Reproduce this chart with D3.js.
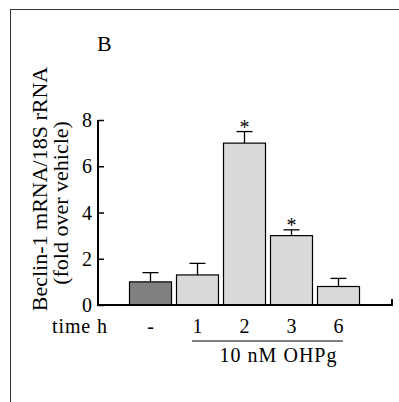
<!DOCTYPE html>
<html>
<head>
<meta charset="utf-8">
<script src="https://cdn.jsdelivr.net/npm/d3@7"></script>
<style>
  body { margin: 0; background: #fff; }
</style>
</head>
<body>
<div id="main-content"></div>
<script>
// data
const groups = ["-", "1", "2", "3", "6"];
const means = [1.0, 1.3, 7.0, 3.0, 0.8];
const errs = [0.4, 0.5, 0.5, 0.25, 0.35];
const signif = [false, false, true, true, false];
const yTicks = [0, 2, 4, 6, 8];

const width = 399, height = 402;
const serif = "'Liberation Serif', 'Times New Roman', Times, 'DejaVu Serif', serif";

const svg = d3.select("#main-content")
  .append("svg")
  .attr("width", width)
  .attr("height", height)
  .style("font-family", serif);

// outer frame (runs off right/bottom)
svg.append("rect")
  .attr("x", 10.5).attr("y", 9.5)
  .attr("width", 420).attr("height", 420)
  .attr("fill", "none").attr("stroke", "#333").attr("stroke-width", 1);

svg.append("text")
  .attr("x", 97).attr("y", 51)
  .attr("font-family", serif)
  .attr("font-size", 22)
  .text("B");

const y = d3.scaleLinear().domain([0, 8]).range([305, 120]);
const x = d3.scaleBand().domain(groups).range([127, 362])
  .paddingInner(4 / 47).paddingOuter(2 / 47);

// bars
svg.selectAll("rect.bar")
  .data(means)
  .enter()
  .append("rect")
  .attr("class", "bar")
  .attr("x", (d, i) => x(groups[i]) + 0.5)
  .attr("y", d => y(d))
  .attr("width", x.bandwidth() - 1)
  .attr("height", d => y(0) - y(d))
  .attr("fill", (d, i) => i === 0 ? "#808080" : "#d9d9d9")
  .attr("stroke", "#000")
  .attr("stroke-width", 1.2);

// error bars (upper only)
const eb = svg.selectAll("g.err")
  .data(means)
  .enter()
  .append("g")
  .attr("stroke", "#000")
  .attr("stroke-width", 1.3);
eb.append("line")
  .attr("x1", (d, i) => x(groups[i]) + x.bandwidth() / 2)
  .attr("x2", (d, i) => x(groups[i]) + x.bandwidth() / 2)
  .attr("y1", d => y(d))
  .attr("y2", (d, i) => y(d + errs[i]));
eb.append("line")
  .attr("x1", (d, i) => x(groups[i]) + x.bandwidth() / 2 - 8)
  .attr("x2", (d, i) => x(groups[i]) + x.bandwidth() / 2 + 8)
  .attr("y1", (d, i) => y(d + errs[i]))
  .attr("y2", (d, i) => y(d + errs[i]));

// asterisks
svg.selectAll("text.star")
  .data(means.map((d, i) => ({ d, i })).filter(o => signif[o.i]))
  .enter()
  .append("text")
  .attr("x", o => x(groups[o.i]) + x.bandwidth() / 2)
  .attr("y", o => y(o.d + errs[o.i]) + 2)
  .attr("text-anchor", "middle")
  .attr("font-family", serif)
  .attr("font-size", 20)
  .text("*");

// y axis, ticks pointing inward
const yAxis = svg.append("g")
  .attr("transform", "translate(98,0)")
  .call(d3.axisRight(y).tickValues(yTicks).tickSize(6).tickFormat(""));
yAxis.select(".domain").remove();
yAxis.selectAll("line").attr("stroke", "#000").attr("stroke-width", 1.5);
svg.append("line")
  .attr("x1", 98).attr("x2", 98)
  .attr("y1", y(8)).attr("y2", y(0))
  .attr("stroke", "#000").attr("stroke-width", 2);
svg.selectAll("text.ytl")
  .data(yTicks)
  .enter()
  .append("text")
  .attr("x", 92)
  .attr("y", d => y(d) + 7)
  .attr("text-anchor", "end")
  .attr("font-family", serif)
  .attr("font-size", 20)
  .text(d => d);

// x axis baseline with small end tick
svg.append("path")
  .attr("d", `M97,${y(0)}H392V${y(0) - 6}`)
  .attr("fill", "none").attr("stroke", "#000").attr("stroke-width", 2);

// x category labels
svg.selectAll("text.xtl")
  .data(groups)
  .enter()
  .append("text")
  .attr("x", d => x(d) + x.bandwidth() / 2)
  .attr("y", 333)
  .attr("text-anchor", "middle")
  .attr("font-family", serif)
  .attr("font-size", 20)
  .text(d => d);

svg.append("text")
  .attr("x", 107).attr("y", 333)
  .attr("text-anchor", "end")
  .attr("font-family", serif)
  .attr("font-size", 20)
  .attr("textLength", 55)
  .text("time h");

svg.append("line")
  .attr("x1", 192).attr("x2", 343)
  .attr("y1", 341).attr("y2", 341)
  .attr("stroke", "#000").attr("stroke-width", 1.2);

svg.append("text")
  .attr("x", 278).attr("y", 362)
  .attr("text-anchor", "middle")
  .attr("font-family", serif)
  .attr("font-size", 20)
  .attr("textLength", 117)
  .text("10 nM OHPg");

// y title, two rotated lines
svg.append("text")
  .attr("transform", "translate(47,189) rotate(-90)")
  .attr("text-anchor", "middle")
  .attr("font-family", serif)
  .attr("font-size", 22)
  .text("Beclin-1 mRNA/18S rRNA");
svg.append("text")
  .attr("transform", "translate(68,203) rotate(-90)")
  .attr("text-anchor", "middle")
  .attr("font-family", serif)
  .attr("font-size", 22)
  .text("(fold over vehicle)");
</script>
</body>
</html>
